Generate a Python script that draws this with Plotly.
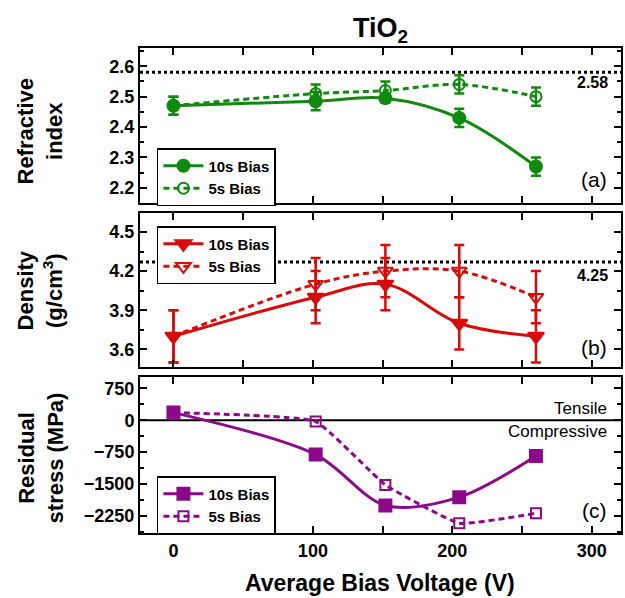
import plotly.graph_objects as go

# ---------------- data ----------------
voltage = [0, 102, 152, 205, 260]

ri_10s = [2.47, 2.485, 2.495, 2.43, 2.27]
ri_10s_err = [0.03, 0.03, 0.015, 0.03, 0.03]
ri_5s = [2.47, 2.51, 2.52, 2.54, 2.50]
ri_5s_err = [0.03, 0.03, 0.03, 0.03, 0.03]
ri_ref = 2.58
ri_ref_label = "2.58"

dens_10s = [3.7, 4.0, 4.1, 3.8, 3.7]
dens_10s_err = [0.2, 0.2, 0.2, 0.2, 0.2]
dens_5s = [3.7, 4.1, 4.2, 4.2, 4.0]
dens_5s_err = [0.2, 0.2, 0.2, 0.2, 0.2]
dens_ref = 4.27
dens_ref_label = "4.25"

stress_10s = [180, -810, -2010, -1815, -845]
stress_5s = [180, -30, -1525, -2430, -2195]

x_ticks = [0, 100, 200, 300]
ri_ticks = [2.2, 2.3, 2.4, 2.5, 2.6]
dens_ticks = [3.6, 3.9, 4.2, 4.5]
stress_ticks = [-2250, -1500, -750, 0, 750]

GREEN = "#0f8a0f"
RED = "#d80a0a"
PURPLE = "#8a0a8a"
FONT = "Liberation Sans"

fig = go.Figure()

def add_series(y, err, name, color, symbol, dash, xa, ya, legend, size, smooth=1.0):
    fig.add_trace(go.Scatter(
        x=voltage, y=y, name=name, mode="lines+markers",
        xaxis=xa, yaxis=ya, legend=legend,
        line=dict(color=color, width=3, dash=dash, shape="spline", smoothing=smooth),
        marker=dict(symbol=symbol, size=size, color=color,
                    line=dict(color=color, width=2)),
        error_y=(dict(type="data", array=err, color=color, thickness=2.5, width=5)
                 if err is not None else None),
    ))

# (a) refractive index
add_series(ri_10s, ri_10s_err, "10s Bias", GREEN, "circle", "solid", "x", "y", "legend", 12)
add_series(ri_5s, ri_5s_err, "5s Bias", GREEN, "circle-open", "6px,4px", "x", "y", "legend", 11)
# (b) density
add_series(dens_10s, dens_10s_err, "10s Bias", RED, "triangle-down", "solid", "x2", "y2", "legend2", 14)
add_series(dens_5s, dens_5s_err, "5s Bias", RED, "triangle-down-open", "6px,4px", "x2", "y2", "legend2", 13)
# (c) stress
add_series(stress_10s, None, "10s Bias", PURPLE, "square", "solid", "x3", "y3", "legend3", 12, 0.9)
add_series(stress_5s, None, "5s Bias", PURPLE, "square-open", "6px,4px", "x3", "y3", "legend3", 10, 0.35)

W, H = 625, 598
ML, MR, MT, MB = 140, 2, 48, 65
PW = W - ML - MR
PH = H - MT - MB

def dom(top_px, bot_px):
    return [(H - MB - bot_px) / PH, (H - MB - top_px) / PH]

BOLD_TICK = dict(family=FONT, size=18, color="black", weight="bold")

xr = [-24, 321]
common_x = dict(range=xr, showline=True, linewidth=2, linecolor="black", mirror="allticks",
                ticks="inside", ticklen=7, tickwidth=2, tickcolor="black",
                tickvals=x_ticks, showgrid=False, zeroline=False,
                minor=dict(ticks="inside", ticklen=7, tickwidth=2, dtick=50, tickcolor="black", showgrid=False),
                tickfont=BOLD_TICK)
common_y = dict(showline=True, linewidth=2, linecolor="black", mirror="allticks",
                ticks="inside", ticklen=7, tickwidth=2, tickcolor="black",
                showgrid=False, zeroline=False,
                tickfont=BOLD_TICK)

d_a = dom(48, 203)
d_b = dom(213, 367)
d_c = dom(377, 533)

legend_style = dict(bgcolor="white", bordercolor="black", borderwidth=1.5,
                    font=dict(family=FONT, size=15, color="black", weight="bold"),
                    xanchor="left", yanchor="top", tracegroupgap=0, itemwidth=40)

def lx(px):
    return (px - ML) / PW

def ly(px):
    return (H - MB - px) / PH

fig.update_layout(
    width=W, height=H, margin=dict(l=ML, r=MR, t=MT, b=MB),
    plot_bgcolor="white", paper_bgcolor="white",
    font=dict(family=FONT, color="black"),
    xaxis=dict(common_x, anchor="y", showticklabels=False, matches="x3"),
    xaxis2=dict(common_x, anchor="y2", showticklabels=False, matches="x3"),
    xaxis3=dict(common_x, anchor="y3", showticklabels=True),
    yaxis=dict(common_y, domain=d_a, anchor="x", range=[2.15, 2.66], tickvals=ri_ticks,
               tickformat=".1f",
               minor=dict(ticks="inside", ticklen=4, tickwidth=2, dtick=0.05, tickcolor="black")),
    yaxis2=dict(common_y, domain=d_b, anchor="x2", range=[3.465, 4.645], tickvals=dens_ticks,
                tickformat=".1f",
                minor=dict(ticks="inside", ticklen=4, tickwidth=2, dtick=0.15, tick0=3.6, tickcolor="black")),
    yaxis3=dict(common_y, domain=d_c, anchor="x3", range=[-2660, 1020], tickvals=stress_ticks,
                minor=dict(ticks="inside", ticklen=4, tickwidth=2, dtick=375, tick0=0, tickcolor="black")),
    legend=dict(legend_style, x=lx(157), y=ly(148)),
    legend2=dict(legend_style, x=lx(157), y=ly(226)),
    legend3=dict(legend_style, x=lx(157), y=ly(476)),
    showlegend=True,
)

# reference lines
fig.add_shape(type="line", xref="x domain", yref="y", x0=0, x1=1, y0=ri_ref, y1=ri_ref,
              line=dict(color="black", width=3, dash="dot"), layer="below")
fig.add_shape(type="line", xref="x2 domain", yref="y2", x0=0, x1=1, y0=dens_ref, y1=dens_ref,
              line=dict(color="black", width=3, dash="dot"), layer="below")
fig.add_shape(type="line", xref="x3 domain", yref="y3", x0=0, x1=1, y0=0, y1=0,
              line=dict(color="black", width=2), layer="below")

def ann(text, x, y, xref, yref, size=17, xanchor="right", yanchor="middle", **kw):
    fig.add_annotation(text=text, x=x, y=y, xref=xref, yref=yref, showarrow=False,
                       xanchor=xanchor, yanchor=yanchor,
                       font=dict(family=FONT, size=size, color="black"), **kw)

# in-panel labels
ann("<b>" + ri_ref_label + "</b>", 0.977, ly(83), "paper", "paper", size=16)
ann("(a)", 0.975, ly(179), "paper", "paper", size=21)
ann("<b>" + dens_ref_label + "</b>", 0.977, ly(275), "paper", "paper", size=16)
ann("(b)", 0.975, ly(347), "paper", "paper", size=21)
ann("Tensile", 0.975, ly(408), "paper", "paper", size=17)
ann("Compressive", 0.975, ly(431), "paper", "paper", size=17)
ann("(c)", 0.975, ly(510), "paper", "paper", size=21)

# title
ann("<b>TiO<sub>2</sub></b>", lx(382), ly(30), "paper", "paper", size=27, xanchor="center")

# axis titles
ann("<b>Average Bias Voltage (V)</b>", lx(381), ly(583), "paper", "paper", size=23, xanchor="center")
ann("<b>Refractive<br>index</b>", lx(40), ly(131), "paper", "paper", size=22, xanchor="center",
    textangle=-90)
ann("<b>Density<br>(g/cm<sup>3</sup>)</b>", lx(40), ly(290), "paper", "paper", size=22, xanchor="center",
    textangle=-90)
ann("<b>Residual<br>stress (MPa)</b>", lx(41), ly(458), "paper", "paper", size=22, xanchor="center",
    textangle=-90)

fig.write_html("out.html", config={"displayModeBar": False},
               post_script="document.body.style.margin='0';document.body.style.padding='0';")
